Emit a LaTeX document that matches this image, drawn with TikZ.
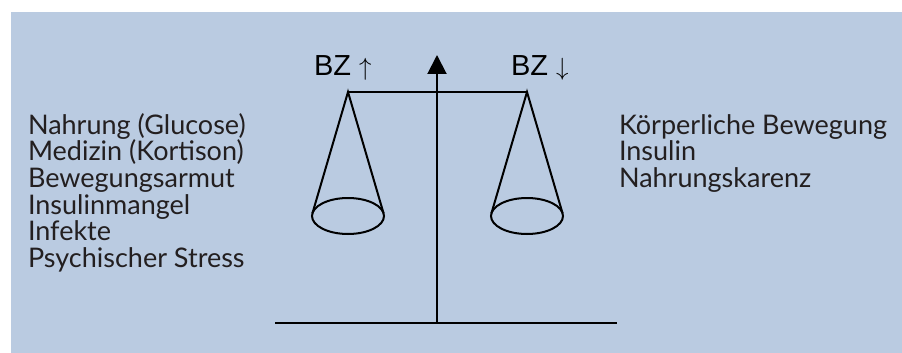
\documentclass[tikz,border=0pt]{standalone}
\usepackage{fontspec}
\setmainfont{Lato}
\newfontfamily\arialfont{Liberation Sans}
\usetikzlibrary{arrows.meta}
\definecolor{bg}{RGB}{186,203,225}
\definecolor{ink}{RGB}{35,31,32}
\begin{document}
\begin{tikzpicture}[x=1pt,y=-1pt,line width=2pt,
  lbl/.style={anchor=base west,inner sep=0pt,font=\fontsize{27}{28}\selectfont,text=ink},
  bzlbl/.style={anchor=base west,inner sep=0pt,font=\arialfont\fontsize{29}{30}\selectfont},
  rod/.style={draw=black,line width=2pt},
  pan/.style={draw=black,line width=2pt}]
\useasboundingbox (0,0) rectangle (902,353);
\fill[bg] (11,12) rectangle (902,353);
% left list
\foreach \t [count=\i] in {Nahrung (Glucose),Medizin (Kortison),Bewegungsarmut,Insulinmangel,Infekte,Psychischer Stress}
  \node[lbl] (l\i) at (27,{134+(\i-1)*26.7}) {\t};
% right list
\foreach \t [count=\i] in {Körperliche Bewegung,Insulin,Nahrungskarenz}
  \node[lbl] (r\i) at (618,{134+(\i-1)*26.7}) {\t};
% labels
\node[bzlbl] (bzup) at (313,76) {BZ $\uparrow$};
\node[bzlbl] (bzdn) at (510,76) {BZ $\downarrow$};
% scale
\coordinate (base) at (437,323);
\coordinate (tip) at (437,55);
\coordinate (apexL) at (348,92);
\coordinate (apexR) at (527,92);
\draw[rod] (275,323) -- (617,323);
\draw[rod,-{Triangle[width=19pt,length=19pt]}] (base) -- (tip);
\draw[rod] (apexL) -- (apexR);
\draw[pan] (348,216) ellipse [x radius=36pt,y radius=18pt];
\draw[pan] (312.4,213.4) -- (apexL) -- (383.6,213.4);
\draw[pan] (527,216) ellipse [x radius=36pt,y radius=18pt];
\draw[pan] (491.4,213.4) -- (apexR) -- (562.6,213.4);
\end{tikzpicture}
\end{document}
